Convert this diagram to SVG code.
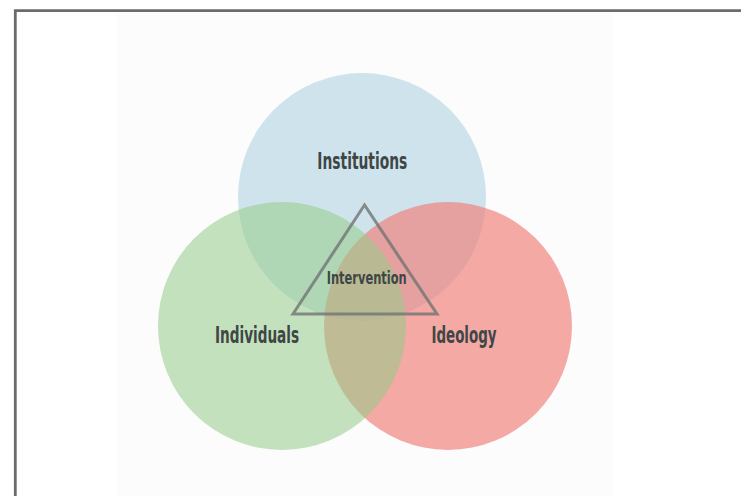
<svg xmlns="http://www.w3.org/2000/svg" width="741" height="496" viewBox="0 0 741 496">
<style>
.lbl{font-family:"DejaVu Sans Condensed","DejaVu Sans","Liberation Sans",sans-serif;font-weight:bold;fill:#3e4646;text-anchor:middle}
.big{font-size:23.5px}
.small{font-size:17.5px}
</style>
<rect x="0" y="0" width="741" height="496" fill="#ffffff"/>
<rect x="117" y="12" width="496" height="484" fill="#fcfcfc"/>
<path d="M15.3 496 V10.7 H741" fill="none" stroke="#6b6b6b" stroke-width="2.8"/>
<g id="institutions">
<circle cx="362" cy="197" r="124" fill="#cfe3ec"/>
</g>
<g id="ideology">
<circle cx="448" cy="326" r="124" fill="#f08079" fill-opacity="0.67"/>
</g>
<g id="individuals">
<circle cx="282" cy="326" r="124" fill="#97cc8a" fill-opacity="0.565"/>
</g>
<g id="intervention">
<polygon points="364.5,205 293,314 437,314" fill="none" stroke="#707474" stroke-opacity="0.8" stroke-width="3" stroke-linejoin="miter"/>
<text class="lbl small" x="366.7" y="284.3" textLength="80" lengthAdjust="spacingAndGlyphs">Intervention</text>
</g>
<g id="labels">
<text class="lbl big" x="362.3" y="169.3" textLength="90" lengthAdjust="spacingAndGlyphs">Institutions</text>
<text class="lbl big" x="257" y="342.7" textLength="84" lengthAdjust="spacingAndGlyphs">Individuals</text>
<text class="lbl big" x="464" y="342.7" textLength="65" lengthAdjust="spacingAndGlyphs">Ideology</text>
</g>
<g id="connectors"></g>
</svg>
